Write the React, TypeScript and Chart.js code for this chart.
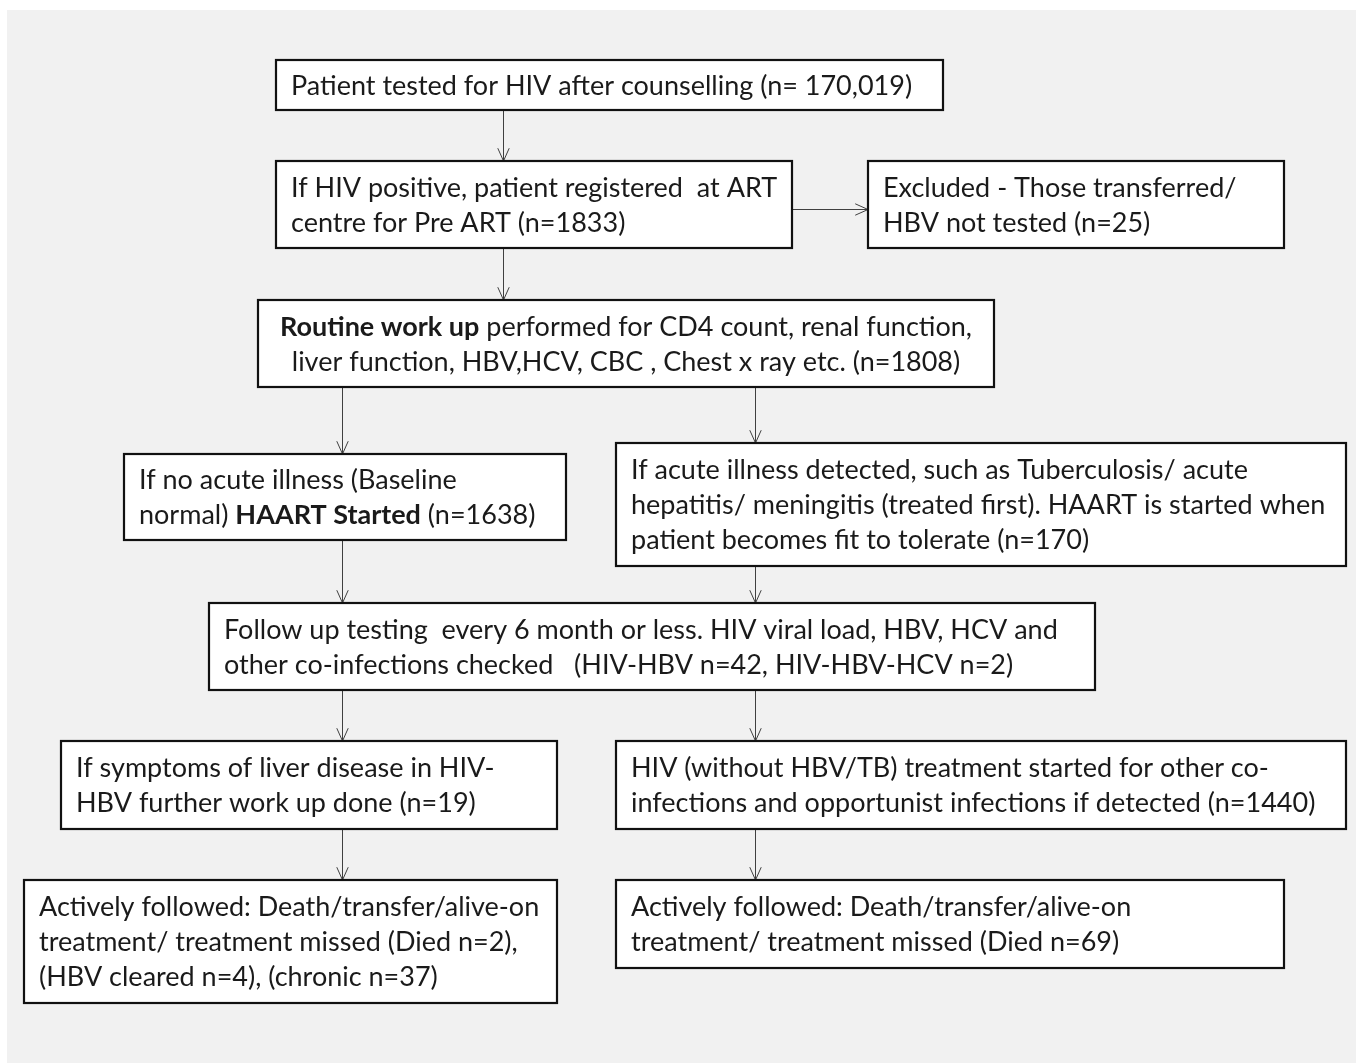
import React, { useEffect, useRef } from "react";
import { Chart, registerables } from "chart.js";

Chart.register(...registerables);

// ---------- content (texts of the flow diagram) ----------
const stepIds = [
  "tested",
  "registered",
  "excluded",
  "workup",
  "noAcute",
  "acute",
  "followUp",
  "liver",
  "hivOther",
  "outcomeHbv",
  "outcomeHiv",
];

// "**...**" marks bold text
const stepTexts: string[][] = [
  ["Patient tested for HIV after counselling (n= 170,019)"],
  ["If HIV positive, patient registered  at ART", "centre for Pre ART (n=1833)"],
  ["Excluded - Those transferred/", "HBV not tested (n=25)"],
  [
    "**Routine work up** performed for CD4 count, renal function,",
    "liver function, HBV,HCV, CBC , Chest x ray etc. (n=1808)",
  ],
  ["If no acute illness (Baseline", "normal) **HAART Started** (n=1638)"],
  [
    "If acute illness detected, such as Tuberculosis/ acute",
    "hepatitis/ meningitis (treated first). HAART is started when",
    "patient becomes fit to tolerate (n=170)",
  ],
  [
    "Follow up testing  every 6 month or less. HIV viral load, HBV, HCV and",
    "other co-infections checked   (HIV-HBV n=42, HIV-HBV-HCV n=2)",
  ],
  ["If symptoms of liver disease in HIV-", "HBV further work up done (n=19)"],
  [
    "HIV (without HBV/TB) treatment started for other co-",
    "infections and opportunist infections if detected (n=1440)",
  ],
  [
    "Actively followed: Death/transfer/alive-on",
    "treatment/ treatment missed (Died n=2),",
    "(HBV cleared n=4), (chronic n=37)",
  ],
  ["Actively followed: Death/transfer/alive-on", "treatment/ treatment missed (Died n=69)"],
];

const linkFrom = ["tested", "registered", "registered", "workup", "workup", "noAcute", "acute", "followUp", "followUp", "liver", "hivOther"];
const linkTo = ["registered", "excluded", "workup", "noAcute", "acute", "followUp", "followUp", "liver", "hivOther", "outcomeHbv", "outcomeHiv"];

// ---------- layout (diagram units on the linear scales) ----------
const boxLeft = [276, 276, 868, 258, 124, 616, 209, 61, 616, 24, 616];
const boxTop = [60, 161, 161, 300, 454, 443, 603, 741, 741, 880, 880];
const boxRight = [943, 792, 1284, 994, 566, 1346, 1095, 557, 1346, 557, 1284];
const boxBottom = [110, 248, 248, 387, 540, 566, 690, 829, 829, 1003, 968];
const boxAlign = ["left", "left", "left", "center", "left", "left", "left", "left", "left", "left", "left"];
// vertical arrows use a fixed x, the horizontal one a fixed y
const linkAxis = ["v", "h", "v", "v", "v", "v", "v", "v", "v", "v", "v"];
const linkPos = [503, 209, 503, 342, 755, 342, 755, 342, 755, 342, 755];

const W = 1356;
const H = 1063;
const FONT_FAMILY = "Lato, 'Open Sans', sans-serif";
const FONT_SIZE = 27;
const LINE_GAP = 35;
const PAD_X = 15;

function parseSegments(line: string) {
  const parts = line.split("**");
  return parts.map((t, i) => ({ text: t, bold: i % 2 === 1 })).filter((s) => s.text.length > 0);
}

const flowPlugin = {
  id: "flowDiagram",
  beforeDatasetsDraw(chart: any) {
    const ctx: CanvasRenderingContext2D = chart.ctx;
    const xs = chart.scales.x;
    const ys = chart.scales.y;
    const px = (v: number) => xs.getPixelForValue(v);
    const py = (v: number) => ys.getPixelForValue(v);

    ctx.save();
    // background
    ctx.fillStyle = "#ffffff";
    ctx.fillRect(0, 0, chart.width, chart.height);
    ctx.fillStyle = "#f1f1f1";
    ctx.fillRect(px(7), py(10), px(W) - px(7), py(H) - py(10));

    // arrows
    ctx.strokeStyle = "#404040";
    ctx.lineWidth = 1;
    linkFrom.forEach((from, i) => {
      const a = stepIds.indexOf(from);
      const b = stepIds.indexOf(linkTo[i]);
      let x1, y1, x2, y2;
      if (linkAxis[i] === "v") {
        x1 = x2 = Math.round(px(linkPos[i])) + 0.5;
        y1 = py(boxBottom[a]);
        y2 = py(boxTop[b]);
      } else {
        y1 = y2 = Math.round(py(linkPos[i])) + 0.5;
        x1 = px(boxRight[a]);
        x2 = px(boxLeft[b]);
      }
      ctx.beginPath();
      ctx.moveTo(x1, y1);
      ctx.lineTo(x2, y2);
      const ang = Math.atan2(y2 - y1, x2 - x1);
      const len = 14;
      const spread = 0.42;
      ctx.moveTo(x2 - len * Math.cos(ang - spread), y2 - len * Math.sin(ang - spread));
      ctx.lineTo(x2, y2);
      ctx.lineTo(x2 - len * Math.cos(ang + spread), y2 - len * Math.sin(ang + spread));
      ctx.stroke();
    });

    // boxes + text
    stepIds.forEach((id, i) => {
      const x0 = px(boxLeft[i]);
      const y0 = py(boxTop[i]);
      const x1 = px(boxRight[i]);
      const y1 = py(boxBottom[i]);
      ctx.fillStyle = "#ffffff";
      ctx.fillRect(x0, y0, x1 - x0, y1 - y0);
      ctx.strokeStyle = "#111111";
      ctx.lineWidth = 2.2;
      ctx.strokeRect(x0, y0, x1 - x0, y1 - y0);

      const lines = stepTexts[i];
      const cy = (y0 + y1) / 2 + 1;
      ctx.fillStyle = "#1a1a1a";
      ctx.textBaseline = "middle";
      ctx.textAlign = "left";
      lines.forEach((line, li) => {
        const yy = cy + (li - (lines.length - 1) / 2) * LINE_GAP;
        const segs = parseSegments(line);
        const widths = segs.map((s) => {
          ctx.font = `${s.bold ? "bold " : ""}${FONT_SIZE}px ${FONT_FAMILY}`;
          return ctx.measureText(s.text).width;
        });
        const total = widths.reduce((p, c) => p + c, 0);
        let xx = boxAlign[i] === "center" ? (x0 + x1) / 2 - total / 2 : x0 + PAD_X;
        segs.forEach((s, si) => {
          ctx.font = `${s.bold ? "bold " : ""}${FONT_SIZE}px ${FONT_FAMILY}`;
          ctx.fillText(s.text, xx, yy);
          xx += widths[si];
        });
      });
    });
    ctx.restore();
  },
};

export default function App() {
  const ref = useRef<HTMLCanvasElement | null>(null);
  useEffect(() => {
    if (!ref.current) return;
    const chart = new Chart(ref.current, {
      type: "scatter",
      data: {
        datasets: [
          {
            label: "steps",
            data: stepIds.map((_, i) => ({ x: (boxLeft[i] + boxRight[i]) / 2, y: (boxTop[i] + boxBottom[i]) / 2 })),
            pointRadius: 0,
            pointHoverRadius: 0,
          },
        ],
      },
      options: {
        responsive: false,
        maintainAspectRatio: false,
        animation: false,
        events: [],
        layout: { padding: 0 },
        plugins: { legend: { display: false }, tooltip: { enabled: false } },
        scales: {
          x: { type: "linear", min: 0, max: W, display: false },
          y: { type: "linear", min: 0, max: H, reverse: true, display: false },
        },
      },
      plugins: [flowPlugin],
    });
    return () => chart.destroy();
  }, []);
  return (
    <div style={{ position: "absolute", left: 0, top: 0, width: W, height: H }}>
      <canvas ref={ref} width={W} height={H} style={{ width: W, height: H, display: "block" }} />
    </div>
  );
}
